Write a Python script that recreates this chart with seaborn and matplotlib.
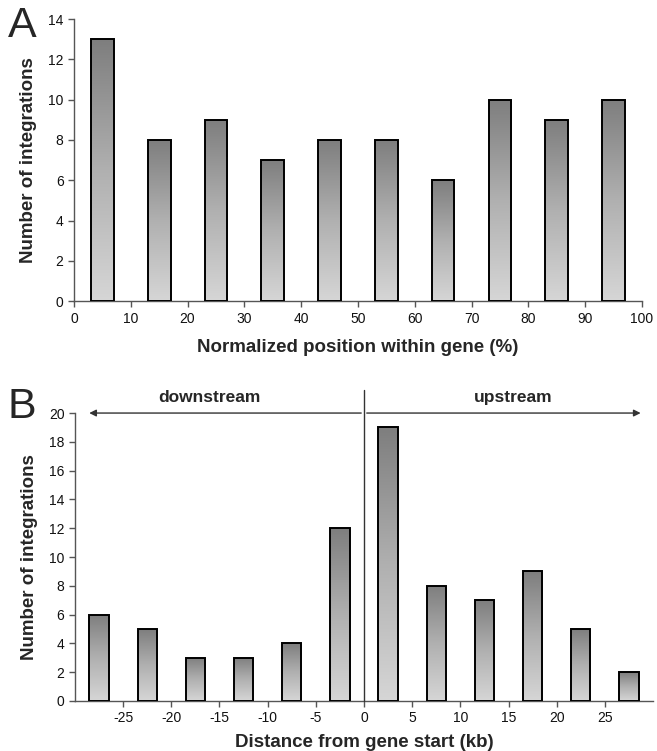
import numpy as np
import pandas as pd
import matplotlib
matplotlib.use("Agg")
import matplotlib.pyplot as plt
import seaborn as sns
from matplotlib.colors import LinearSegmentedColormap

# ---- data ----
pos_a = [5, 15, 25, 35, 45, 55, 65, 75, 85, 95]
cnt_a = [13, 8, 9, 7, 8, 8, 6, 10, 9, 10]
pos_b = [-27.5, -22.5, -17.5, -12.5, -7.5, -2.5, 2.5, 7.5, 12.5, 17.5, 22.5, 27.5]
cnt_b = [6, 5, 3, 3, 4, 12, 19, 8, 7, 9, 5, 2]
xticks_a = list(range(0, 101, 10))
yticks_a = list(range(0, 15, 2))
xticks_b = [-25, -20, -15, -10, -5, 0, 5, 10, 15, 20, 25]
yticks_b = list(range(0, 21, 2))

sns.set_theme(style="ticks")
plt.rcParams['font.family'] = ['Liberation Sans', 'DejaVu Sans']

fig = plt.figure(figsize=(6.57, 7.51), dpi=100)
axA = fig.add_axes([0.1126, 0.599, 0.977 - 0.1126, 0.9747 - 0.599])
axB = fig.add_axes([0.114, 0.0666, 0.994 - 0.114, 0.45 - 0.0666])

cmap = LinearSegmentedColormap.from_list("g", ["#d6d6d6", "#b0b0b0", "#7e7e7e"])
grad = np.linspace(0, 1, 256).reshape(-1, 1)


def gradient_bars(ax):
    for p in list(ax.patches):
        x0, y0 = p.get_x(), p.get_y()
        w, h = p.get_width(), p.get_height()
        p.set_facecolor("none")
        p.set_edgecolor("black")
        p.set_linewidth(1.4)
        p.set_zorder(3)
        im = ax.imshow(grad, extent=[x0, x0 + w, y0, y0 + h], origin="lower",
                       cmap=cmap, aspect="auto", zorder=2, interpolation="bilinear")
        im.set_clip_path(p)


LABEL_FS = 13.5

dfa = pd.DataFrame({"pos": pos_a, "cnt": cnt_a})
sns.barplot(data=dfa, x="pos", y="cnt", native_scale=True, width=0.4, ax=axA,
            color="gray", errorbar=None)
gradient_bars(axA)
axA.set_xlim(0, 100)
axA.set_ylim(0, 14)
axA.set_xticks(xticks_a)
axA.set_yticks(yticks_a)
axA.set_xlabel("Normalized position within gene (%)", fontsize=LABEL_FS, fontweight="bold", labelpad=10)
axA.set_ylabel("Number of integrations", fontsize=LABEL_FS, fontweight="bold", labelpad=8)

dfb = pd.DataFrame({"pos": pos_b, "cnt": cnt_b})
sns.barplot(data=dfb, x="pos", y="cnt", native_scale=True, width=0.4, ax=axB,
            color="gray", errorbar=None)
gradient_bars(axB)
axB.set_xlim(-30, 30)
axB.set_ylim(0, 20)
axB.set_xticks(xticks_b)
axB.set_yticks(yticks_b)
axB.set_xticklabels([str(t) for t in xticks_b])
axB.set_xlabel("Distance from gene start (kb)", fontsize=LABEL_FS, fontweight="bold", labelpad=6)
axB.set_ylabel("Number of integrations", fontsize=LABEL_FS, fontweight="bold", labelpad=8)

# vertical line at 0 and arrows
axB.plot([0, 0], [0, 21.6], color="#333333", lw=1.0, clip_on=False, zorder=4)
axB.annotate("", xy=(-28.8, 20), xytext=(0, 20),
             arrowprops=dict(arrowstyle="-|>", color="#333333", lw=1.0, mutation_scale=10),
             annotation_clip=False)
axB.annotate("", xy=(29.0, 20), xytext=(0, 20),
             arrowprops=dict(arrowstyle="-|>", color="#333333", lw=1.0, mutation_scale=10),
             annotation_clip=False)
axB.text(-16, 20.55, "downstream", ha="center", va="bottom", fontsize=12.5, fontweight="bold")
axB.text(15.5, 20.55, "upstream", ha="center", va="bottom", fontsize=12.5, fontweight="bold")

for ax in (axA, axB):
    sns.despine(ax=ax)
    for s in ("left", "bottom"):
        ax.spines[s].set_color("#555555")
        ax.spines[s].set_linewidth(1.0)
    ax.tick_params(axis="both", labelsize=10, color="#555555", length=4, width=1.0,
                   labelcolor="#111111", direction="out")

fig.text(0.012, 0.992, "A", fontsize=31, va="top", ha="left")
fig.text(0.012, 0.485, "B", fontsize=31, va="top", ha="left")

fig.savefig("out.png", dpi=100)
